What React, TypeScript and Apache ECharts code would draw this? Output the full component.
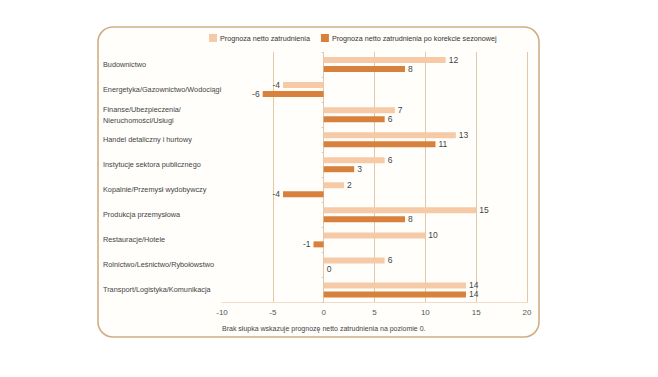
import React, { useEffect, useRef } from "react";
import * as echarts from "echarts";

const categories = [
  "Budownictwo",
  "Energetyka/Gazownictwo/Wodociągi",
  "Finanse/Ubezpieczenia/\nNieruchomości/Usługi",
  "Handel detaliczny i hurtowy",
  "Instytucje sektora publicznego",
  "Kopalnie/Przemysł wydobywczy",
  "Produkcja przemysłowa",
  "Restauracje/Hotele",
  "Rolnictwo/Leśnictwo/Rybołówstwo",
  "Transport/Logistyka/Komunikacja",
];
const netForecast = [12, -4, 7, 13, 6, 2, 15, 10, 6, 14];
const seasonalForecast = [8, -6, 6, 11, 3, -4, 8, -1, 0, 14];
const seriesNames = [
  "Prognoza netto zatrudnienia",
  "Prognoza netto zatrudnienia po korekcie sezonowej",
];
const footnote = "Brak słupka wskazuje prognozę netto zatrudnienia na poziomie 0.";

const FONT = "Liberation Sans, Arial, sans-serif";

function toItems(values: number[]) {
  return values.map((v) => ({
    value: v,
    label: { position: v < 0 ? "left" : "right" },
  }));
}

export default function App() {
  const ref = useRef<HTMLDivElement>(null);
  useEffect(() => {
    if (!ref.current) return;
    const chart = echarts.init(ref.current, null, { renderer: "svg" });
    const labelCfg = {
      show: true,
      fontSize: 8.5,
      color: "#444",
      fontFamily: FONT,
      distance: 3,
    };
    chart.setOption({
      animation: false,
      backgroundColor: "#ffffff",
      textStyle: { fontFamily: FONT },
      graphic: [
        {
          type: "rect",
          z: -10,
          shape: { x: 98, y: 27, width: 441, height: 310, r: 15 },
          style: { fill: "#fffefb", stroke: "#cfae86", lineWidth: 1.6 },
          silent: true,
        },
        {
          type: "text",
          left: 222,
          top: 325,
          style: {
            text: footnote,
            fontSize: 7,
            fill: "#444",
            fontFamily: FONT,
          },
        },
      ],
      legend: {
        left: 209,
        top: 34,
        padding: 0,
        itemWidth: 8,
        itemHeight: 8,
        itemGap: 11,
        icon: "rect",
        textStyle: { fontSize: 7.2, color: "#333", fontFamily: FONT, padding: [0, 0, 0, -2] },
        data: seriesNames,
      },
      grid: { left: 222, right: 131, top: 52, bottom: 74.5, containLabel: false },
      xAxis: {
        type: "value",
        min: -10,
        max: 20,
        interval: 5,
        axisLine: { show: true, lineStyle: { color: "#ecdcc8", width: 1 } },
        axisTick: { show: false },
        axisLabel: { fontSize: 8, color: "#555", margin: 6, fontFamily: FONT },
        splitLine: {
          show: true,
          showMinLine: false,
          lineStyle: { color: "#e2c8a6", width: 1 },
        },
      },
      yAxis: {
        type: "category",
        data: categories,
        inverse: true,
        axisLine: { show: false },
        axisTick: { show: true, length: 2, lineStyle: { color: "#cccccc" } },
        axisLabel: {
          align: "left",
          margin: 119,
          fontSize: 7.3,
          lineHeight: 11,
          color: "#444",
          fontFamily: FONT,
        },
      },
      series: [
        {
          name: seriesNames[0],
          type: "bar",
          data: toItems(netForecast),
          itemStyle: { color: "#f6caa6" },
          barWidth: 6,
          barGap: "50%",
          label: labelCfg,
        },
        {
          name: seriesNames[1],
          type: "bar",
          data: toItems(seasonalForecast),
          itemStyle: { color: "#d8813c" },
          barWidth: 6,
          barGap: "50%",
          label: labelCfg,
        },
      ],
    });
    return () => chart.dispose();
  }, []);
  return (
    <div
      ref={ref}
      style={{ position: "fixed", left: 0, top: 0, width: 658, height: 377 }}
    />
  );
}
